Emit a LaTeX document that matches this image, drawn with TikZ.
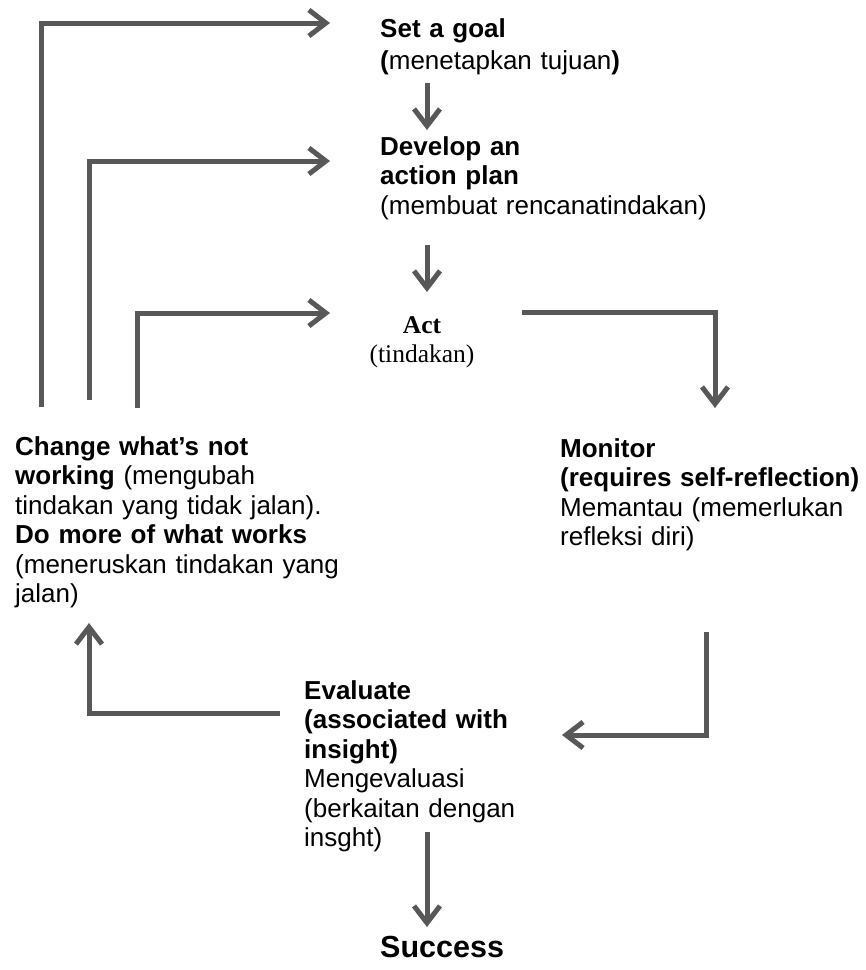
\documentclass[tikz,border=0pt]{standalone}
\usepackage{fontspec}
\setmainfont{Liberation Sans}
\newfontfamily\timesf{Liberation Serif}
\usetikzlibrary{arrows.meta}
\definecolor{arrgray}{RGB}{88,88,88}
\begin{document}
\begin{tikzpicture}[x=1pt,y=-1pt,
  txt/.style={anchor=base west, inner sep=0pt, align=left, text width=#1,
              font=\fontsize{26}{29.5}\selectfont},
  txt/.default=480pt,
  arr/.style={draw=arrgray, line width=5pt, line join=miter,
              -{Straight Barb[length=17pt,width=26pt]}}]
\useasboundingbox (0,0) rectangle (866,970);

% text blocks
\node[txt] (goal) at (380,37) {\textbf{Set a goal}\\[3pt]\textbf{(}menetapkan tujuan\textbf{)}};
\node[txt] (plan) at (380,155) {\textbf{Develop an}\\\textbf{action plan}\\(membuat rencanatindakan)};
\node[anchor=base, inner sep=0pt, align=center, text width=200pt,
      font=\timesf\fontsize{25.5}{29}\selectfont] (act) at (422,333) {\textbf{Act}\\(tindakan)};
\node[txt] (monitor) at (560,457) {\textbf{Monitor}\\\textbf{(requires self-reflection)}\\Memantau (memerlukan\\refleksi diri)};
\node[txt] (evaluate) at (304,699) {\textbf{Evaluate}\\\textbf{(associated with}\\\textbf{insight)}\\Mengevaluasi\\(berkaitan dengan\\insght)};
\node[txt] (change) at (15,455) {\textbf{Change what’s not}\\\textbf{working} (mengubah\\tindakan yang tidak jalan).\\\textbf{Do more of what works}\\(meneruskan tindakan yang\\jalan)};
\node[anchor=base west, inner sep=0pt, font=\bfseries\fontsize{30.5}{34}\selectfont] (success) at (380,957) {Success};

% connector end points
\coordinate (g1) at (427,83);   \coordinate (p1) at (427,130);
\coordinate (p2) at (427,245);  \coordinate (a1) at (427,292);
\coordinate (a2) at (522,312);  \coordinate (m1) at (715,408);
\coordinate (m2) at (706,632);  \coordinate (e1) at (562,735);
\coordinate (e2) at (280,713);  \coordinate (c1) at (89,623);
\coordinate (e3) at (427,832);  \coordinate (s1) at (427,927);
\coordinate (c2) at (41,407);   \coordinate (g2) at (330,23);
\coordinate (c3) at (89,400);   \coordinate (p3) at (330,161);
\coordinate (c4) at (137,408);  \coordinate (a3) at (330,313);

% connectors
\draw[arr] (g1) -- (p1);
\draw[arr] (p2) -- (a1);
\draw[arr] (a2) -| (m1);
\draw[arr] (m2) |- (e1);
\draw[arr] (e2) -| (c1);
\draw[arr] (e3) -- (s1);
\draw[arr] (c2) |- (g2);
\draw[arr] (c3) |- (p3);
\draw[arr] (c4) |- (a3);
\end{tikzpicture}
\end{document}
